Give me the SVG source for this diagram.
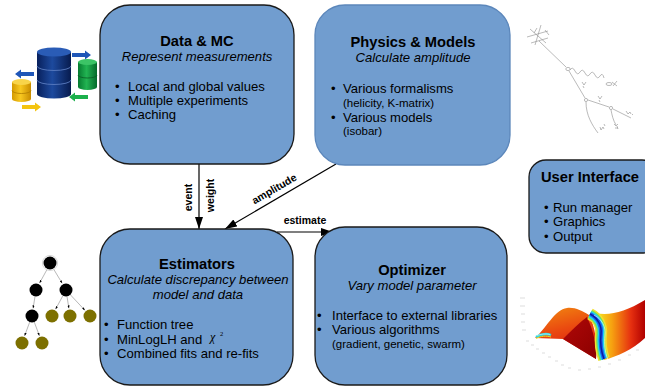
<svg xmlns="http://www.w3.org/2000/svg" width="645" height="387" viewBox="0 0 645 387">
  <style>
    .box { fill: #719dcf; stroke: #1a1a1a; stroke-width: 1.3; }
    .box-soft { fill: #719dcf; stroke: #5c87bb; stroke-width: 1.3; }
    .title { font-family: "Liberation Sans", Arial, sans-serif; font-weight: bold; font-size: 14.7px; fill: #000; text-anchor: middle; }
    .sub { font-family: "Liberation Sans", Arial, sans-serif; font-style: italic; font-size: 13.1px; fill: #000; text-anchor: middle; }
    .item { font-family: "Liberation Sans", Arial, sans-serif; font-size: 13.1px; fill: #000; }
    .small { font-family: "Liberation Sans", Arial, sans-serif; font-size: 11.5px; fill: #000; }
    .lbl { font-family: "Liberation Sans", Arial, sans-serif; font-weight: bold; font-size: 10.5px; fill: #000; }
    .conn { stroke: #000; stroke-width: 1.2; fill: none; marker-end: url(#head); }
    .edge { stroke: #9a9a9a; stroke-width: 0.7; fill: none; marker-end: url(#tip); }
    .feyn { stroke: #8c8c8c; stroke-width: 0.6; fill: none; }
    .tick { stroke: #c8c8c8; stroke-width: 0.6; }
    .valley { fill: none; stroke-linecap: butt; }
  </style>
  <defs>
    <marker id="head" viewBox="0 0 12 8" refX="12" refY="4" markerWidth="12" markerHeight="8" markerUnits="userSpaceOnUse" orient="auto">
      <path d="M0,0 L12,4 L0,8 Z" fill="#000"/>
    </marker>
    <marker id="tip" viewBox="0 0 4 3" refX="4" refY="1.5" markerWidth="3" markerHeight="2.4" markerUnits="userSpaceOnUse" orient="auto">
      <path d="M0,0 L4,1.5 L0,3 Z" fill="#000"/>
    </marker>
    <linearGradient id="navyBody" x1="0" y1="0" x2="1" y2="0">
      <stop offset="0" stop-color="#08205c"/>
      <stop offset="0.45" stop-color="#1d4a9e"/>
      <stop offset="1" stop-color="#071b4e"/>
    </linearGradient>
    <linearGradient id="greenBody" x1="0" y1="0" x2="1" y2="0">
      <stop offset="0" stop-color="#067a30"/>
      <stop offset="0.45" stop-color="#22b452"/>
      <stop offset="1" stop-color="#05692a"/>
    </linearGradient>
    <linearGradient id="yellowBody" x1="0" y1="0" x2="1" y2="0">
      <stop offset="0" stop-color="#d49a00"/>
      <stop offset="0.45" stop-color="#f8c820"/>
      <stop offset="1" stop-color="#c88c00"/>
    </linearGradient>
    <linearGradient id="wingFill" x1="0" y1="0" x2="0.3" y2="1">
      <stop offset="0" stop-color="#f28a10"/>
      <stop offset="0.5" stop-color="#ea4a10"/>
      <stop offset="1" stop-color="#d81a10"/>
    </linearGradient>
    <linearGradient id="foldFill" x1="0" y1="0" x2="1" y2="1">
      <stop offset="0" stop-color="#b00808"/>
      <stop offset="1" stop-color="#8c0000"/>
    </linearGradient>
    <linearGradient id="rightFill" x1="598" y1="0" x2="645" y2="0" gradientUnits="userSpaceOnUse">
      <stop offset="0" stop-color="#f8e020"/>
      <stop offset="0.3" stop-color="#f6a010"/>
      <stop offset="0.7" stop-color="#e63010"/>
      <stop offset="1" stop-color="#b00000"/>
    </linearGradient>
    <path id="blockArrow" d="M0,-2 L13,-2 L13,-4.5 L19,0 L13,4.5 L13,2 L0,2 Z"/>
    <path id="valleyLine" d="M590,314 C598,318 602,326 601,334 C600,343 601,351 604,359"/>
  </defs>

  <!-- storage icon -->
  <g id="icon-storage">
    <!-- yellow cylinder -->
    <rect x="12" y="82" width="19" height="17" fill="url(#yellowBody)"/>
    <ellipse cx="21.5" cy="99" rx="9.5" ry="3" fill="url(#yellowBody)"/>
    <path d="M12,90.5 A9.5,3 0 0 0 31,90.5" stroke="#b07c00" stroke-width="0.8" fill="none"/>
    <ellipse cx="21.5" cy="82" rx="9.5" ry="3" fill="#f8d44a"/>
    <!-- large navy cylinder -->
    <rect x="37" y="52" width="34" height="42" fill="url(#navyBody)"/>
    <ellipse cx="54" cy="94" rx="17" ry="4.5" fill="url(#navyBody)"/>
    <path d="M37,66 A17,4.5 0 0 0 71,66" stroke="#5a7cc0" stroke-width="0.9" fill="none"/>
    <path d="M37,80 A17,4.5 0 0 0 71,80" stroke="#5a7cc0" stroke-width="0.9" fill="none"/>
    <ellipse cx="54" cy="52" rx="17" ry="4.5" fill="#2a5cb6"/>
    <!-- green cylinder -->
    <rect x="78" y="62" width="19" height="25" fill="url(#greenBody)"/>
    <ellipse cx="87.5" cy="87" rx="9.5" ry="3" fill="url(#greenBody)"/>
    <path d="M78,75 A9.5,3 0 0 0 97,75" stroke="#0a5a24" stroke-width="0.8" fill="none"/>
    <ellipse cx="87.5" cy="62" rx="9.5" ry="3" fill="#3cc466"/>
    <!-- flow arrows -->
    <use href="#blockArrow" transform="translate(72,55)" fill="#1f56b8"/>
    <use href="#blockArrow" transform="translate(34,74) scale(-1,1)" fill="#1f56b8"/>
    <use href="#blockArrow" transform="translate(88,97) scale(-1,1)" fill="#1cb04c"/>
    <use href="#blockArrow" transform="translate(22,107)" fill="#f4c410"/>
  </g>

  <!-- decay sketch -->
  <g id="sketch-decay">
    <path class="feyn" d="M527,37 L548,31 M530,29 L546,43 M541,25 L535,45 M531,43 L548,38 M534,33 L537,28 M545,30 L549,35"/>
    <path class="feyn" d="M539,41 L566,67"/>
    <ellipse cx="568" cy="69" rx="2.2" ry="1.6" class="feyn"/>
    <path class="feyn" d="M570,70 q2.5,-4 5,1 q2.5,5 5,1 q2.5,-4 5,1 q2.5,5 5,1 q2.5,-4 5,1 q2.5,5 5,1 q2.5,-4 4,2"/>
    <ellipse cx="609" cy="84" rx="3" ry="1.5" class="feyn"/>
    <path class="feyn" d="M612,82 L617,86 M613,86 L617,81"/>
    <path class="feyn" d="M569,71 L585,98"/>
    <circle cx="586" cy="100" r="1.6" class="feyn"/>
    <path class="feyn" d="M588,100 L609,107"/>
    <circle cx="611" cy="108" r="1.6" class="feyn"/>
    <path class="feyn" d="M613,109 L631,118"/>
    <path class="feyn" d="M586,102 C586,115 592,125 598,133"/>
    <path class="feyn" d="M611,110 C612,115 613,120 616,125"/>
    <path class="feyn" d="M582,82 l2,3 l2,-3 M583,86 l1,2"/>
    <path class="feyn" d="M598,96 l2,3 l2,-3 M599,100 l1,2"/>
    <path class="feyn" d="M626,111 l2,3 l2,-2 l1,2 M632,114 l1,1"/>
    <path class="feyn" d="M600,127 l1,3 l2,-3 l1,2 M604,124 l1,2"/>
    <path class="feyn" d="M614,124 l2,2 l2,-2 M615,128 l3,0 M617,126 l1,3"/>
  </g>

  <!-- function tree -->
  <g id="tree-functions">
    <path class="edge" d="M47,269.5 L39.6,283"/>
    <path class="edge" d="M53.3,268.6 L62.2,283.3"/>
    <path class="edge" d="M35,296.5 L33.1,308.4"/>
    <path class="edge" d="M62.9,295.7 L55.6,309.2"/>
    <path class="edge" d="M67,296.5 L68.9,308.4"/>
    <path class="edge" d="M70.4,294.8 L84.9,310.3"/>
    <path class="edge" d="M29.7,322.1 L24.6,335.8"/>
    <path class="edge" d="M34.3,322.1 L39.4,335.8"/>
    <circle cx="50" cy="263" r="7.6" fill="none" stroke="#cfcfcf" stroke-width="0.8"/>
    <circle cx="50" cy="263" r="6.5" fill="#000"/>
    <circle cx="36" cy="290" r="6.5" fill="#000"/>
    <circle cx="66" cy="290" r="6.5" fill="#000"/>
    <circle cx="32" cy="316" r="6.5" fill="#000"/>
    <circle cx="52" cy="316" r="6.5" fill="#7d7000"/>
    <circle cx="70" cy="316" r="6.5" fill="#7d7000"/>
    <circle cx="90" cy="316" r="6.5" fill="#7d7000"/>
    <circle cx="22" cy="343" r="6.5" fill="#7d7000"/>
    <circle cx="42" cy="343" r="6.5" fill="#7d7000"/>
  </g>

  <!-- likelihood surface -->
  <g id="plot-surface">
    <path class="tick" d="M520,298 h5 M520,306 h5 M521,314 h4 M521,322 h4 M522,330 h4 M526,341 h3 M531,345 h3 M536,349 h3 M542,353 h3 M548,357 h3 M555,361 h3 M561,365 h3 M568,368 h3 M578,370 h3 M588,369 h3 M598,367 h3 M608,364 h3 M618,360 h3 M628,355 h3 M636,350 h3"/>
    <path d="M595,313 C610,316 625,312 645,300 L645,338 C632,350 618,356 604,360 C603,345 604,330 595,313 Z" fill="url(#rightFill)"/>
    <path d="M535,338 C545,330 555,309 567,308 C575,307 582,311 589,315 C595,326 598,345 596,359 L563,339 Z" fill="url(#wingFill)"/>
    <path d="M563,339 C571,331 579,323 587,317 C593,330 597,345 596,359 Z" fill="url(#foldFill)"/>
    <path d="M536,337 C541,334 546,333 551,335" stroke="#30d8e0" stroke-width="2.4" fill="none"/>
    <path d="M537,335.5 C541,334 546,333.5 550,334.5" stroke="#ffffff" stroke-width="0.5" fill="none"/>
    <path d="M536,338.5 C541,336 546,335.5 551,337" stroke="#e8e020" stroke-width="1" fill="none"/>
    <g class="valley">
      <use href="#valleyLine" stroke="#f2e030" stroke-width="12"/>
      <use href="#valleyLine" stroke="#80e050" stroke-width="9"/>
      <use href="#valleyLine" stroke="#20d8f0" stroke-width="6.5"/>
      <use href="#valleyLine" stroke="#1a64f0" stroke-width="4"/>
      <use href="#valleyLine" stroke="#0a1ea0" stroke-width="1.5"/>
      <use href="#valleyLine" transform="translate(4,1)" stroke="#ffffff" stroke-width="0.6"/>
    </g>
  </g>

  <!-- connectors -->
  <g id="connectors">
    <line class="conn" x1="199" y1="164" x2="199" y2="229"/>
    <line class="conn" x1="336" y1="164" x2="225" y2="229"/>
    <line class="conn" x1="277" y1="232" x2="333" y2="232"/>
    <text class="lbl" text-anchor="middle" transform="translate(192,197.5) rotate(-90)">event</text>
    <text class="lbl" text-anchor="middle" transform="translate(214,195.5) rotate(-90)">weight</text>
    <text class="lbl" text-anchor="middle" transform="translate(276,192) rotate(-30)">amplitude</text>
    <text class="lbl" x="305" y="224" text-anchor="middle">estimate</text>
  </g>

  <!-- Data & MC -->
  <g id="node-data">
    <rect class="box" x="100" y="5" width="194" height="159" rx="30" ry="30"/>
    <text class="title" x="197" y="46">Data &amp; MC</text>
    <text class="sub" x="197" y="61">Represent measurements</text>
    <text class="item" x="115" y="91">•</text>
    <text class="item" x="128" y="91">Local and global values</text>
    <text class="item" x="115" y="105">•</text>
    <text class="item" x="128" y="105">Multiple experiments</text>
    <text class="item" x="115" y="119">•</text>
    <text class="item" x="128" y="119">Caching</text>
  </g>

  <!-- Physics & Models -->
  <g id="node-physics">
    <rect class="box-soft" x="315" y="5" width="195" height="160" rx="30" ry="30"/>
    <text class="title" x="413" y="47">Physics &amp; Models</text>
    <text class="sub" x="413" y="62">Calculate amplitude</text>
    <text class="item" x="331" y="93">•</text>
    <text class="item" x="343" y="93">Various formalisms</text>
    <text class="small" x="343" y="107">(helicity, K-matrix)</text>
    <text class="item" x="331" y="122">•</text>
    <text class="item" x="343" y="122">Various models</text>
    <text class="small" x="343" y="135">(isobar)</text>
  </g>

  <!-- User Interface -->
  <g id="node-ui">
    <rect class="box" x="529" y="160" width="130" height="93" rx="17" ry="17"/>
    <text class="title" x="590" y="182">User Interface</text>
    <text class="item" x="544" y="212">•</text>
    <text class="item" x="553" y="212">Run manager</text>
    <text class="item" x="544" y="226">•</text>
    <text class="item" x="553" y="226">Graphics</text>
    <text class="item" x="544" y="241">•</text>
    <text class="item" x="553" y="241">Output</text>
  </g>

  <!-- Estimators -->
  <g id="node-estimators">
    <rect class="box" x="100" y="229" width="193" height="156" rx="30" ry="30"/>
    <text class="title" x="197" y="269">Estimators</text>
    <text class="sub" x="198" y="284">Calculate discrepancy between</text>
    <text class="sub" x="198" y="299">model and data</text>
    <text class="item" x="104" y="329">•</text>
    <text class="item" x="117" y="329">Function tree</text>
    <text class="item" x="104" y="344">•</text>
    <text class="item" x="117" y="344">MinLogLH and</text>
    <text x="210" y="341" font-family="'Liberation Serif', 'Times New Roman', serif" font-style="italic" font-size="12px">χ</text>
    <text x="220" y="336" font-family="'Liberation Serif', 'Times New Roman', serif" font-size="6.5px">2</text>
    <text class="item" x="104" y="358">•</text>
    <text class="item" x="117" y="358">Combined fits and re-fits</text>
  </g>

  <!-- Optimizer -->
  <g id="node-optimizer">
    <rect class="box" x="315" y="227" width="192" height="158" rx="30" ry="30"/>
    <text class="title" x="412" y="275">Optimizer</text>
    <text class="sub" x="412" y="290">Vary model parameter</text>
    <text class="item" x="317" y="320">•</text>
    <text class="item" x="332" y="320">Interface to external libraries</text>
    <text class="item" x="317" y="334">•</text>
    <text class="item" x="332" y="334">Various algorithms</text>
    <text class="small" x="332" y="348">(gradient, genetic, swarm)</text>
  </g>
</svg>
